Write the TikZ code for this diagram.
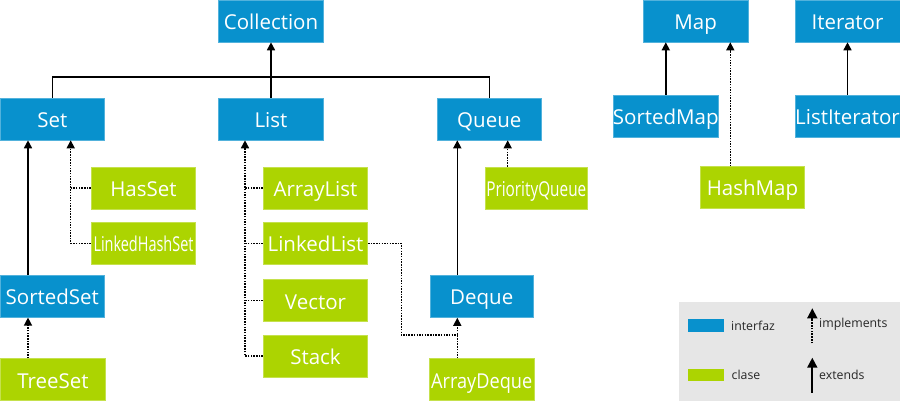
\documentclass[tikz,border=0pt]{standalone}
\usepackage{fontspec}
\usepackage{graphicx}
\setmainfont{Open Sans}
\usetikzlibrary{arrows.meta,calc}
\definecolor{ifblue}{HTML}{0891CD}
\definecolor{clgreen}{HTML}{ACD401}
\definecolor{leggray}{HTML}{E6E6E6}
\begin{document}
\begin{tikzpicture}[x=1pt,y=-1pt,
 box/.style={rectangle, inner sep=0pt, minimum height=42pt, minimum width=104.5pt, text=white, font=\fontsize{20.5}{24}\selectfont, text height=16.6pt, text depth=0pt},
 iface/.style={box, fill=ifblue, draw=ifblue!70!white, line width=0.6pt},
 cls/.style={box, fill=clgreen, draw=clgreen!70!white, line width=0.6pt},
 ext/.style={-{Triangle[length=8pt 0 0,width=8pt 0]}, line width=1.6pt},
 impl/.style={-{Triangle[length=8pt 0 0,width=8pt 0]}, line width=1.5pt, dash pattern=on 1.5pt off 1.2pt},
 dotline/.style={line width=1.5pt, dash pattern=on 1.5pt off 1.2pt},
 legtext/.style={anchor=west, inner sep=0pt, font=\fontsize{12.3}{14}\selectfont, text=black!85},
 swatch/.style={rectangle, inner sep=0pt, minimum width=35.6pt, minimum height=12.7pt, anchor=north west},
 legarrow/.style={-{Triangle[length=10pt 0 0,width=10pt 0]}, line width=1.7pt},
 legimpl/.style={-{Triangle[length=10pt 0 0,width=10pt 0]}, line width=1.7pt, dash pattern=on 1.5pt off 1.3pt},
]
\useasboundingbox (0,0) rectangle (900,401);

% interfaces
\node[iface] (coll) at (271,21) {Collection};
\node[iface] (set) at (52.3,119) {Set};
\node[iface] (list) at (271,119) {List};
\node[iface] (queue) at (489.3,119) {Queue};
\node[iface] (sortedset) at (52.3,296.3) {SortedSet};
\node[iface, minimum width=103.3pt] (deque) at (481.7,296.5) {Deque};
\node[iface] (map) at (695.7,21) {Map};
\node[iface, minimum width=105pt] (iterator) at (847.5,21) {Iterator};
\node[iface, minimum width=105pt] (sortedmap) at (665.8,116) {SortedMap};
\node[iface, minimum width=105pt] (listiterator) at (847.5,116) {ListIterator};

% classes
\node[cls] (treeset) at (53,379.7) {TreeSet};
\node[cls] (hasset) at (143.5,188) {HasSet};
\node[cls] (lhs) at (143.5,243.3) {\resizebox{100pt}{\height}{LinkedHashSet}};
\node[cls] (arraylist) at (315.5,188) {ArrayList};
\node[cls] (linkedlist) at (315.5,243.3) {LinkedList};
\node[cls] (vector) at (315.5,300.7) {Vector};
\node[cls] (stack) at (315.5,356) {Stack};
\node[cls, minimum width=102.7pt] (pq) at (536.3,188) {\resizebox{100pt}{\height}{PriorityQueue}};
\node[cls, minimum width=104.7pt] (arraydeque) at (481.7,379.7) {\resizebox{101pt}{\height}{ArrayDeque}};
\node[cls] (hashmap) at (752.5,187.7) {HashMap};

% Collection hierarchy
\coordinate (bus) at (0,77);
\draw[line width=1.2pt] (set.north) -- (set.north |- bus) -- (queue.north |- bus) -- (queue.north);
\draw[ext] (list.north) -- (coll.south);

% Set
\coordinate (setext) at ([xshift=-24.3pt]set.south);
\coordinate (setimp) at ([xshift=18.4pt]set.south);
\draw[ext] (sortedset.north -| setext) -- (setext);
\draw[impl] (lhs.west) -| (setimp);
\draw[dotline] (hasset.west) -- (hasset.west -| setimp);
\coordinate (ssimp) at ([xshift=-24.3pt]sortedset.south);
\draw[impl] (treeset.north -| ssimp) -- (ssimp);

% List
\coordinate (listimp) at ([xshift=-26pt]list.south);
\draw[impl] (stack.west) -| (listimp);
\draw[dotline] (arraylist.west) -- (arraylist.west -| listimp);
\draw[dotline] (linkedlist.west) -- (linkedlist.west -| listimp);
\draw[dotline] (vector.west) -- (vector.west -| listimp);

% Queue / Deque
\coordinate (dqx) at ([xshift=-24.4pt]deque.north);
\draw[ext] (dqx) -- (dqx |- queue.south);
\coordinate (pqx) at ([xshift=-28.6pt]pq.north);
\draw[impl] (pqx) -- (pqx |- queue.south);
\coordinate (dqimp) at ([xshift=-24.4pt]deque.south);
\draw[impl] (arraydeque.north -| dqimp) -- (dqimp);
\coordinate (dj) at ($(deque.south)+(-24.4,17.4)$);
\draw[dotline] (linkedlist.east) -- ++(33.3,0) |- (dj);

% Map / Iterator
\draw[ext] (sortedmap.north) -- (sortedmap.north |- map.south);
\coordinate (hmx) at ([xshift=-22.2pt]hashmap.north);
\draw[impl] (hmx) -- (hmx |- map.south);
\draw[ext] (listiterator.north) -- (listiterator.north |- iterator.south);

% Legend
\node[fill=leggray, minimum width=221pt, minimum height=99.3pt, anchor=north west, inner sep=0pt] (legend) at (679,301.7) {};
\node[swatch, fill=ifblue] (legif) at (687.7,319) {};
\node[legtext] (legiftext) at (731,325.5) {interfaz};
\node[swatch, fill=clgreen] (legcl) at (687.7,368.3) {};
\node[legtext] (legcltext) at (731.5,374.8) {clase};
\coordinate (ia) at (812.3,343.3);
\coordinate (ib) at (812.3,308.3);
\draw[legimpl] (ia) -- (ib);
\node[legtext] (legimpltext) at (819,324) {implements};
\coordinate (ea) at (812.3,392.7);
\coordinate (eb) at (812.3,357.7);
\draw[legarrow] (ea) -- (eb);
\node[legtext] (legexttext) at (819,375) {extends};
\end{tikzpicture}
\end{document}
